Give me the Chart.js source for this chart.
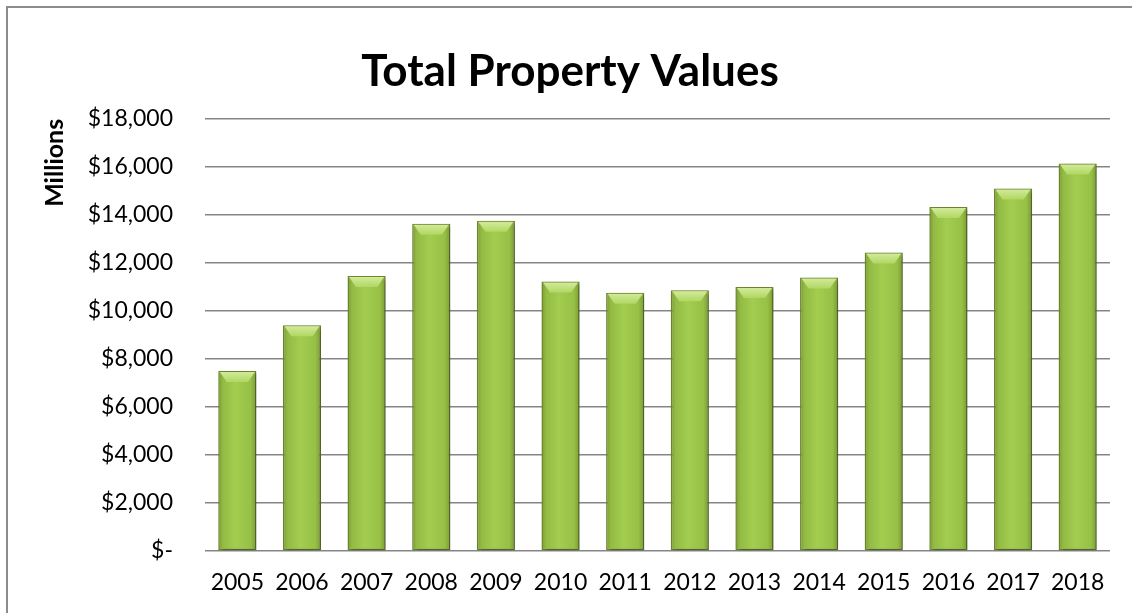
<!DOCTYPE html>
<html>
<head>
<meta charset="utf-8">
<script src="https://cdn.jsdelivr.net/npm/chart.js@4"></script>
<style>
  html, body { margin: 0; padding: 0; background: #ffffff; }
  #wrap { position: relative; width: 1132px; height: 613px; overflow: hidden; }
  #frame { position: absolute; left: 6px; top: 6px; width: 1300px; height: 800px;
           border-left: 2px solid #8c8c8c; border-top: 2px solid #8c8c8c; }
  #c { position: absolute; left: 0; top: 0; }
</style>
</head>
<body>
<div id="wrap">
  <div id="frame"></div>
  <canvas id="c" width="1132" height="613"></canvas>
</div>
<script>
const categories = ['2005','2006','2007','2008','2009','2010','2011','2012','2013','2014','2015','2016','2017','2018'];
const propertyValues = [7500, 9400, 11450, 13630, 13750, 11220, 10760, 10860, 11000, 11390, 12430, 14330, 15100, 16140];
const yTickStep = 2000;
const yMax = 18000;
const chartTitle = 'Total Property Values';
const yAxisTitle = 'Millions';

const FONT = 'Lato, "Open Sans", sans-serif';
const BAR_PCT = 0.59;

function barGradient(ctx) {
  const chart = ctx.chart;
  if (!chart.chartArea || ctx.dataIndex === undefined) return '#9bc44a';
  const xs = chart.scales.x;
  const cx = xs.getPixelForValue(ctx.dataIndex);
  const catW = (chart.chartArea.right - chart.chartArea.left) / categories.length;
  const w = catW * BAR_PCT;
  const g = chart.ctx.createLinearGradient(cx - w / 2, 0, cx + w / 2, 0);
  g.addColorStop(0, '#7a9931');
  g.addColorStop(0.12, '#93bb44');
  g.addColorStop(0.45, '#a2cd4f');
  g.addColorStop(0.85, '#97c146');
  g.addColorStop(1, '#7b9a32');
  return g;
}

const shadowPlugin = {
  id: 'barShadow',
  beforeDatasetDraw(chart) {
    const c = chart.ctx;
    c.save();
    c.shadowColor = 'rgba(0,0,0,0.35)';
    c.shadowBlur = 4;
    c.shadowOffsetX = 2;
    c.shadowOffsetY = 2;
  },
  afterDatasetDraw(chart) {
    chart.ctx.restore();
  }
};

const bevelPlugin = {
  id: 'bevel',
  afterDatasetsDraw(chart) {
    const c = chart.ctx;
    const meta = chart.getDatasetMeta(0);
    meta.data.forEach(bar => {
      const { x, y, width } = bar.getProps(['x', 'y', 'width'], true);
      const l = x - width / 2 + 1.5, r = x + width / 2 - 1.5;
      const h = 11;
      const g = c.createLinearGradient(0, y, 0, y + h);
      g.addColorStop(0, '#d6eca0');
      g.addColorStop(1, '#b0d762');
      c.save();
      c.beginPath();
      c.moveTo(l, y + 1);
      c.lineTo(r, y + 1);
      c.lineTo(r - 7, y + h);
      c.lineTo(l + 7, y + h);
      c.closePath();
      c.fillStyle = g;
      c.fill();
      c.restore();
    });
  }
};

new Chart(document.getElementById('c'), {
  type: 'bar',
  data: {
    labels: categories,
    datasets: [{
      data: propertyValues,
      backgroundColor: barGradient,
      borderColor: '#6d8a2a',
      borderWidth: 1.5,
      borderSkipped: false,
      barPercentage: BAR_PCT,
      categoryPercentage: 1
    }]
  },
  options: {
    responsive: false,
    animation: false,
    devicePixelRatio: 1,
    layout: { padding: { left: 30, right: 22, top: 0, bottom: 0 } },
    plugins: {
      legend: { display: false },
      tooltip: { enabled: false },
      title: {
        display: true,
        text: chartTitle,
        color: '#000000',
        font: { family: FONT, size: 44, weight: 'bold' },
        padding: { top: 45, bottom: 21 }
      }
    },
    scales: {
      x: {
        grid: { display: false, drawTicks: false },
        border: { display: false },
        ticks: { color: '#000000', font: { family: FONT, size: 23 }, padding: 18, maxRotation: 0 },
        afterFit(s) { s.height = 62; }
      },
      y: {
        min: 0,
        max: yMax,
        ticks: {
          stepSize: yTickStep,
          color: '#000000',
          font: { family: FONT, size: 23 },
          padding: 32,
          callback: v => v === 0 ? '$-' : '$' + v.toLocaleString('en-US')
        },
        grid: { color: '#858585', lineWidth: 1.6, drawTicks: false },
        border: { display: false },
        title: {
          display: true,
          text: yAxisTitle,
          align: 'end',
          color: '#000000',
          font: { family: FONT, size: 25, weight: 'bold' },
          padding: { top: 10, bottom: 0 }
        },
        afterFit(s) { s.width = 175; }
      }
    }
  },
  plugins: [shadowPlugin, bevelPlugin]
});
</script>
</body>
</html>
